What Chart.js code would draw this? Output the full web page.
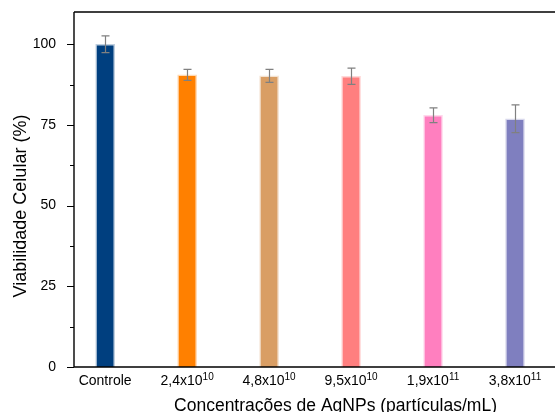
<!DOCTYPE html>
<html>
<head>
<meta charset="utf-8">
<script src="https://cdn.jsdelivr.net/npm/chart.js@4.4.1/dist/chart.umd.min.js"></script>
<style>
  html, body { margin: 0; padding: 0; background: #fff; overflow: hidden; }
  #wrap { width: 600px; height: 412px; }
</style>
</head>
<body>
<div id="wrap"><canvas id="cellChart" width="600" height="412"></canvas></div>
<script>
// Tick labels (base + superscript exponent)
const labelBase = ["Controle", "2,4x10", "4,8x10", "9,5x10", "1,9x10", "3,8x10"];
const labelExp = ["", "10", "10", "10", "11", "11"];

// Viabilidade celular (%) and error (±)
const viability = [100, 90.5, 90.2, 90.1, 78.0, 76.9];
const errors = [2.6, 1.7, 2.0, 2.5, 2.3, 4.3];

const barColors = ["#003f7f", "#ff8000", "#d99e64", "#ff7f7f", "#ff7fbf", "#7f7fbf"];
const barEdges = ["rgba(0,63,127,0.25)", "rgba(255,128,0,0.3)", "rgba(217,158,100,0.3)",
  "rgba(255,127,127,0.3)", "rgba(255,127,191,0.3)", "rgba(127,127,191,0.3)"];

const yTicks = [0, 25, 50, 75, 100];
const yMinorTicks = [12.5, 37.5, 62.5, 87.5];

const FONT = "'Liberation Sans', Arial, sans-serif";

// Draws spines, ticks, error bars, labels and titles
const decorPlugin = {
  id: "decor",
  afterDatasetsDraw(chart) {
    const ctx = chart.ctx;
    const xs = chart.scales.x;
    const ys = chart.scales.y;

    // error bars
    ctx.save();
    ctx.strokeStyle = "#808080";
    ctx.lineWidth = 1.2;
    viability.forEach((v, i) => {
      const px = Math.round(xs.getPixelForValue(i + 1)) + 0.5;
      const top = ys.getPixelForValue(v + errors[i]);
      const bot = ys.getPixelForValue(v - errors[i]);
      ctx.beginPath();
      ctx.moveTo(px, top); ctx.lineTo(px, bot);
      ctx.moveTo(px - 4, top); ctx.lineTo(px + 4, top);
      ctx.moveTo(px - 4, bot); ctx.lineTo(px + 4, bot);
      ctx.stroke();
    });
    ctx.restore();
  },
  afterDraw(chart) {
    const ctx = chart.ctx;
    const area = chart.chartArea;
    const xs = chart.scales.x;
    const ys = chart.scales.y;

    ctx.save();
    // spines
    ctx.strokeStyle = "#000";
    ctx.lineWidth = 1.4;
    ctx.beginPath();
    ctx.moveTo(area.left, area.top);
    ctx.lineTo(area.right, area.top);
    ctx.moveTo(area.left, area.top);
    ctx.lineTo(area.left, area.bottom);
    ctx.lineTo(area.right, area.bottom);
    ctx.stroke();

    // y ticks (outward)
    ctx.lineWidth = 1;
    ctx.beginPath();
    yTicks.forEach(v => {
      const py = Math.round(ys.getPixelForValue(v)) + 0.5;
      ctx.moveTo(area.left - 7, py); ctx.lineTo(area.left, py);
    });
    yMinorTicks.forEach(v => {
      const py = Math.round(ys.getPixelForValue(v)) + 0.5;
      ctx.moveTo(area.left - 4, py); ctx.lineTo(area.left, py);
    });
    ctx.stroke();

    // x tick labels with superscripts
    ctx.fillStyle = "#000";
    ctx.textBaseline = "alphabetic";
    ctx.textAlign = "left";
    labelBase.forEach((base, i) => {
      const cx = xs.getPixelForValue(i + 1);
      ctx.font = "14px " + FONT;
      const wBase = ctx.measureText(base).width;
      ctx.font = "10px " + FONT;
      const wExp = labelExp[i] ? ctx.measureText(labelExp[i]).width : 0;
      const start = cx - (wBase + wExp) / 2;
      ctx.font = "14px " + FONT;
      ctx.fillText(base, start, 385);
      if (labelExp[i]) {
        ctx.font = "10px " + FONT;
        ctx.fillText(labelExp[i], start + wBase, 380);
      }
    });

    // axis titles
    ctx.font = "17.5px " + FONT;
    ctx.textAlign = "center";
    ctx.fillText("Concentrações de AgNPs (partículas/mL)", (area.left + area.right) / 2, 411);

    ctx.translate(26, 206);
    ctx.rotate(-Math.PI / 2);
    ctx.font = "18px " + FONT;
    ctx.fillText("Viabilidade Celular (%)", 0, 0);
    ctx.restore();
  }
};

function initializeChart() {
  const ctx = document.getElementById("cellChart").getContext("2d");
  new Chart(ctx, {
    type: "bar",
    data: {
      datasets: [{
        data: viability.map((v, i) => ({ x: i + 1, y: v })),
        backgroundColor: barColors,
        borderColor: barEdges,
        borderWidth: 1.5,
        borderSkipped: "bottom",
        barThickness: 19,
      }],
    },
    options: {
      responsive: false,
      animation: false,
      layout: { padding: { top: 12, right: 3, bottom: 0, left: 0 } },
      plugins: { legend: { display: false }, tooltip: { enabled: false } },
      scales: {
        x: {
          type: "linear",
          offset: false,
          min: 0.62,
          max: 7.0,
          grid: { display: false, offset: false },
          border: { display: false },
          ticks: { display: false },
          afterFit(scale) {
            scale.height = 45;
            scale.paddingLeft = 0;
            scale.paddingRight = 0;
          },
        },
        y: {
          min: 0,
          max: 110,
          grid: { display: false },
          border: { display: false },
          afterBuildTicks(scale) { scale.ticks = yTicks.map(v => ({ value: v })); },
          afterFit(scale) {
            scale.width = 74;
            scale.paddingTop = 0;
            scale.paddingBottom = 0;
          },
          ticks: {
            padding: 10,
            color: "#000",
            font: { family: FONT, size: 14 },
          },
        },
      },
    },
    plugins: [decorPlugin],
  });
}

window.onload = function () {
  initializeChart();
};
</script>
</body>
</html>
